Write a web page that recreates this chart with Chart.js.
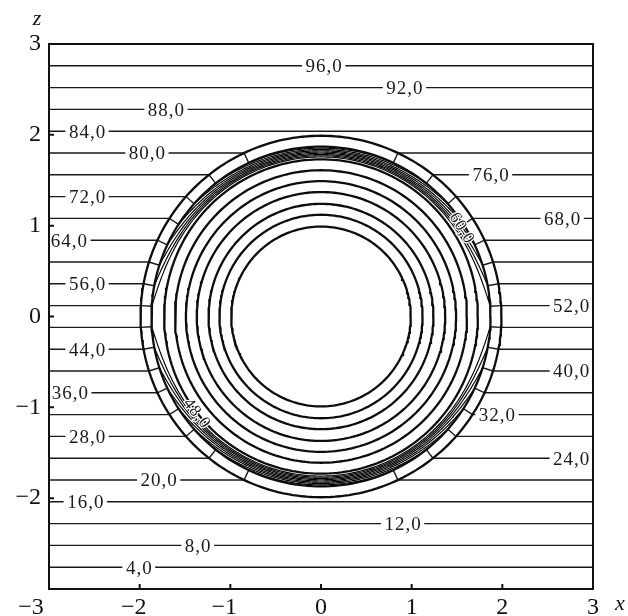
<!DOCTYPE html>
<html>
<head>
<meta charset="utf-8">
<script src="https://cdn.jsdelivr.net/npm/chart.js@4.4.1/dist/chart.umd.min.js"></script>
<style>
  html, body { margin: 0; padding: 0; background: #fff; }
  #wrap { width: 628px; height: 616px; position: relative; }
</style>
</head>
<body>
<div id="wrap"><canvas id="field"></canvas></div>
<script>
// Potential levels of the contour lines (per cent)
const levels = [4, 8, 12, 16, 20, 24, 28, 32, 36, 40, 44, 48, 52, 56, 60, 64, 68, 72, 76, 80, 84, 88, 92, 96];
// x position of the inline label of each level (null: labelled on the bent part)
const labelX = [-2.01, -1.36, 0.90, -2.60, -1.79, 2.76, -2.58, 1.94, -2.77, 2.76, -2.58, null,
                2.76, -2.58, null, -2.78, 2.66, -2.58, 1.87, -1.92, -2.58, -1.71, 0.92, 0.03];
// labels written along the bent contours inside the shell: level, radius, polar angle (deg)
const arcLabels = [[60, 1.83, 32], [48, 1.74, 218]];
// radii of the circular contours of the sphere and its shell
const circleRadii = [0.99, 1.12, 1.24, 1.37, 1.49, 1.61, 1.73, 1.87, 1.99];
// axis ticks
const tickValues = [-3, -2, -1, 0, 1, 2, 3];

// undisturbed uniform field: potential 50 on the plane z = 0, 100 at z = 3
const PHI_MID = 50;
const PHI_PER_UNIT = 50 / 3;
const heightOf = v => (v - PHI_MID) / PHI_PER_UNIT;

const SHELL_OUTER = circleRadii[circleRadii.length - 1];
const SHELL_INNER = circleRadii[circleRadii.length - 2];
const BAND_INNER = 1.75, BAND_OUTER = 1.86;
const DEG = Math.PI / 180;
const SERIF = '"Liberation Serif", "DejaVu Serif", serif';

// one contour: horizontal outside the sphere, across the shell, then wrapped
// around inside the thin band towards the nearer pole
function contourPoints(v) {
  const z = heightOf(v);
  if (Math.abs(z) >= SHELL_OUTER) return [{ x: -3, y: z }, { x: 3, y: z }];
  const pole = (z > 0 ? 1 : -1) * Math.PI / 2;
  const th0 = Math.asin(z / SHELL_OUTER);
  const rb = BAND_INNER + (BAND_OUTER - BAND_INNER) * Math.abs(z) / SHELL_OUTER;
  const right = [];
  const N = 70;
  for (let i = 0; i <= N; i++) {
    const phi = pole + (th0 - pole) * i / N;
    const d = Math.abs(phi - th0);
    const r = rb + (SHELL_INNER - rb) * Math.exp(-d / (14 * DEG));
    right.push({ x: r * Math.cos(phi), y: r * Math.sin(phi) });
  }
  right.push({ x: Math.sqrt(SHELL_OUTER * SHELL_OUTER - z * z), y: z });
  right.push({ x: 3, y: z });
  const left = right.slice().reverse().map(p => ({ x: -p.x, y: p.y }));
  return left.concat(right.slice(1));
}

function circlePoints(r) {
  const pts = [];
  for (let a = 0; a <= 360; a += 1.5) pts.push({ x: r * Math.cos(a * DEG), y: r * Math.sin(a * DEG) });
  return pts;
}

const datasets = [];
circleRadii.forEach(r => {
  datasets.push({ data: circlePoints(r), showLine: true, borderColor: '#0d0d0d', borderWidth: 2.3,
                  pointRadius: 0, fill: false });
});
levels.forEach(v => {
  const pts = contourPoints(v);
  datasets.push({
    data: pts, showLine: true, borderColor: '#1a1a1a', borderWidth: 1.4, pointRadius: 0, fill: false,
    segment: {
      borderWidth: ctx => {
        const a = pts[ctx.p0DataIndex], b = pts[ctx.p1DataIndex];
        return (Math.hypot(a.x, a.y) < 1.95 && Math.hypot(b.x, b.y) < 1.95) ? 1.15 : 1.4;
      },
      borderColor: ctx => {
        const a = pts[ctx.p0DataIndex], b = pts[ctx.p1DataIndex];
        return (Math.hypot(a.x, a.y) < 1.95 && Math.hypot(b.x, b.y) < 1.95) ? '#000' : '#1a1a1a';
      }
    }
  });
});

const fmt = v => (v < 0 ? '\u2212' + (-v) : String(v));

const decorations = {
  id: 'decorations',
  afterDraw(chart) {
    const { ctx, chartArea: a, scales: { x, y } } = chart;
    ctx.save();
    // inline labels on horizontal contours
    ctx.font = '19px ' + SERIF;
    ctx.letterSpacing = '1px';
    ctx.textAlign = 'center';
    ctx.textBaseline = 'middle';
    levels.forEach((v, i) => {
      if (labelX[i] === null) return;
      const txt = v.toFixed(1).replace('.', ',');
      const px = x.getPixelForValue(labelX[i]);
      const py = y.getPixelForValue(heightOf(v));
      const w = ctx.measureText(txt).width;
      ctx.fillStyle = '#fff';
      ctx.fillRect(px - w / 2 - 3, py - 3, w + 6, 6);
      ctx.fillStyle = '#1a1a1a';
      ctx.fillText(txt, px + 0.5, py + 1.5);
    });
    // labels along the bent contours
    ctx.font = '17px ' + SERIF;
    arcLabels.forEach(([v, r, ang]) => {
      const txt = v.toFixed(1).replace('.', ',');
      const px = x.getPixelForValue(r * Math.cos(ang * DEG));
      const py = y.getPixelForValue(r * Math.sin(ang * DEG));
      ctx.save();
      ctx.translate(px, py);
      ctx.rotate((90 - ang) * DEG + (ang > 180 ? -Math.PI : 0));
      ctx.lineWidth = 2.5;
      ctx.strokeStyle = '#fff';
      ctx.strokeText(txt, 0, 0);
      ctx.fillStyle = '#1a1a1a';
      ctx.fillText(txt, 0, 0);
      ctx.restore();
    });
    ctx.letterSpacing = '0px';
    // frame
    ctx.strokeStyle = '#111';
    ctx.lineWidth = 2;
    ctx.strokeRect(a.left, a.top, a.right - a.left, a.bottom - a.top);
    // inward ticks on the left and bottom axes
    ctx.beginPath();
    tickValues.slice(1, -1).forEach(t => {
      const py = y.getPixelForValue(t);
      ctx.moveTo(a.left, py); ctx.lineTo(a.left + 5, py);
      const px = x.getPixelForValue(t);
      ctx.moveTo(px, a.bottom); ctx.lineTo(px, a.bottom - 5);
    });
    ctx.stroke();
    // axis letters
    ctx.fillStyle = '#111';
    ctx.font = 'italic 22px ' + SERIF;
    ctx.textAlign = 'center';
    ctx.textBaseline = 'alphabetic';
    ctx.fillText('z', 37, 25);
    ctx.fillText('x', 620, 610);
    ctx.restore();
  }
};

new Chart(document.getElementById('field'), {
  type: 'scatter',
  data: { datasets },
  options: {
    responsive: true,
    maintainAspectRatio: false,
    animation: false,
    layout: { padding: { top: 44, right: 35, left: 0, bottom: 0 } },
    plugins: { legend: { display: false }, tooltip: { enabled: false } },
    elements: { point: { radius: 0 } },
    scales: {
      x: {
        type: 'linear', min: -3, max: 3,
        afterFit: s => { s.height = 27; },
        grid: { display: false, drawTicks: false },
        border: { display: false },
        afterBuildTicks: s => { s.ticks = tickValues.map(v => ({ value: v })); },
        ticks: {
          autoSkip: false, maxRotation: 0, padding: 4, color: '#111',
          font: { family: SERIF, size: 24 },
          callback: v => v === -3 ? '\u22123\u2003\u2002' : (v < 0 ? fmt(v) + '\u2002' : fmt(v))
        }
      },
      y: {
        type: 'linear', min: -3, max: 3,
        afterFit: s => { s.width = 49; },
        grid: { display: false, drawTicks: false },
        border: { display: false },
        afterBuildTicks: s => { s.ticks = tickValues.map(v => ({ value: v })); },
        ticks: {
          autoSkip: false, padding: 8, color: '#111',
          font: { family: SERIF, size: 24 },
          callback: v => v === -3 ? '' : fmt(v)
        }
      }
    }
  },
  plugins: [decorations]
});
</script>
</body>
</html>
